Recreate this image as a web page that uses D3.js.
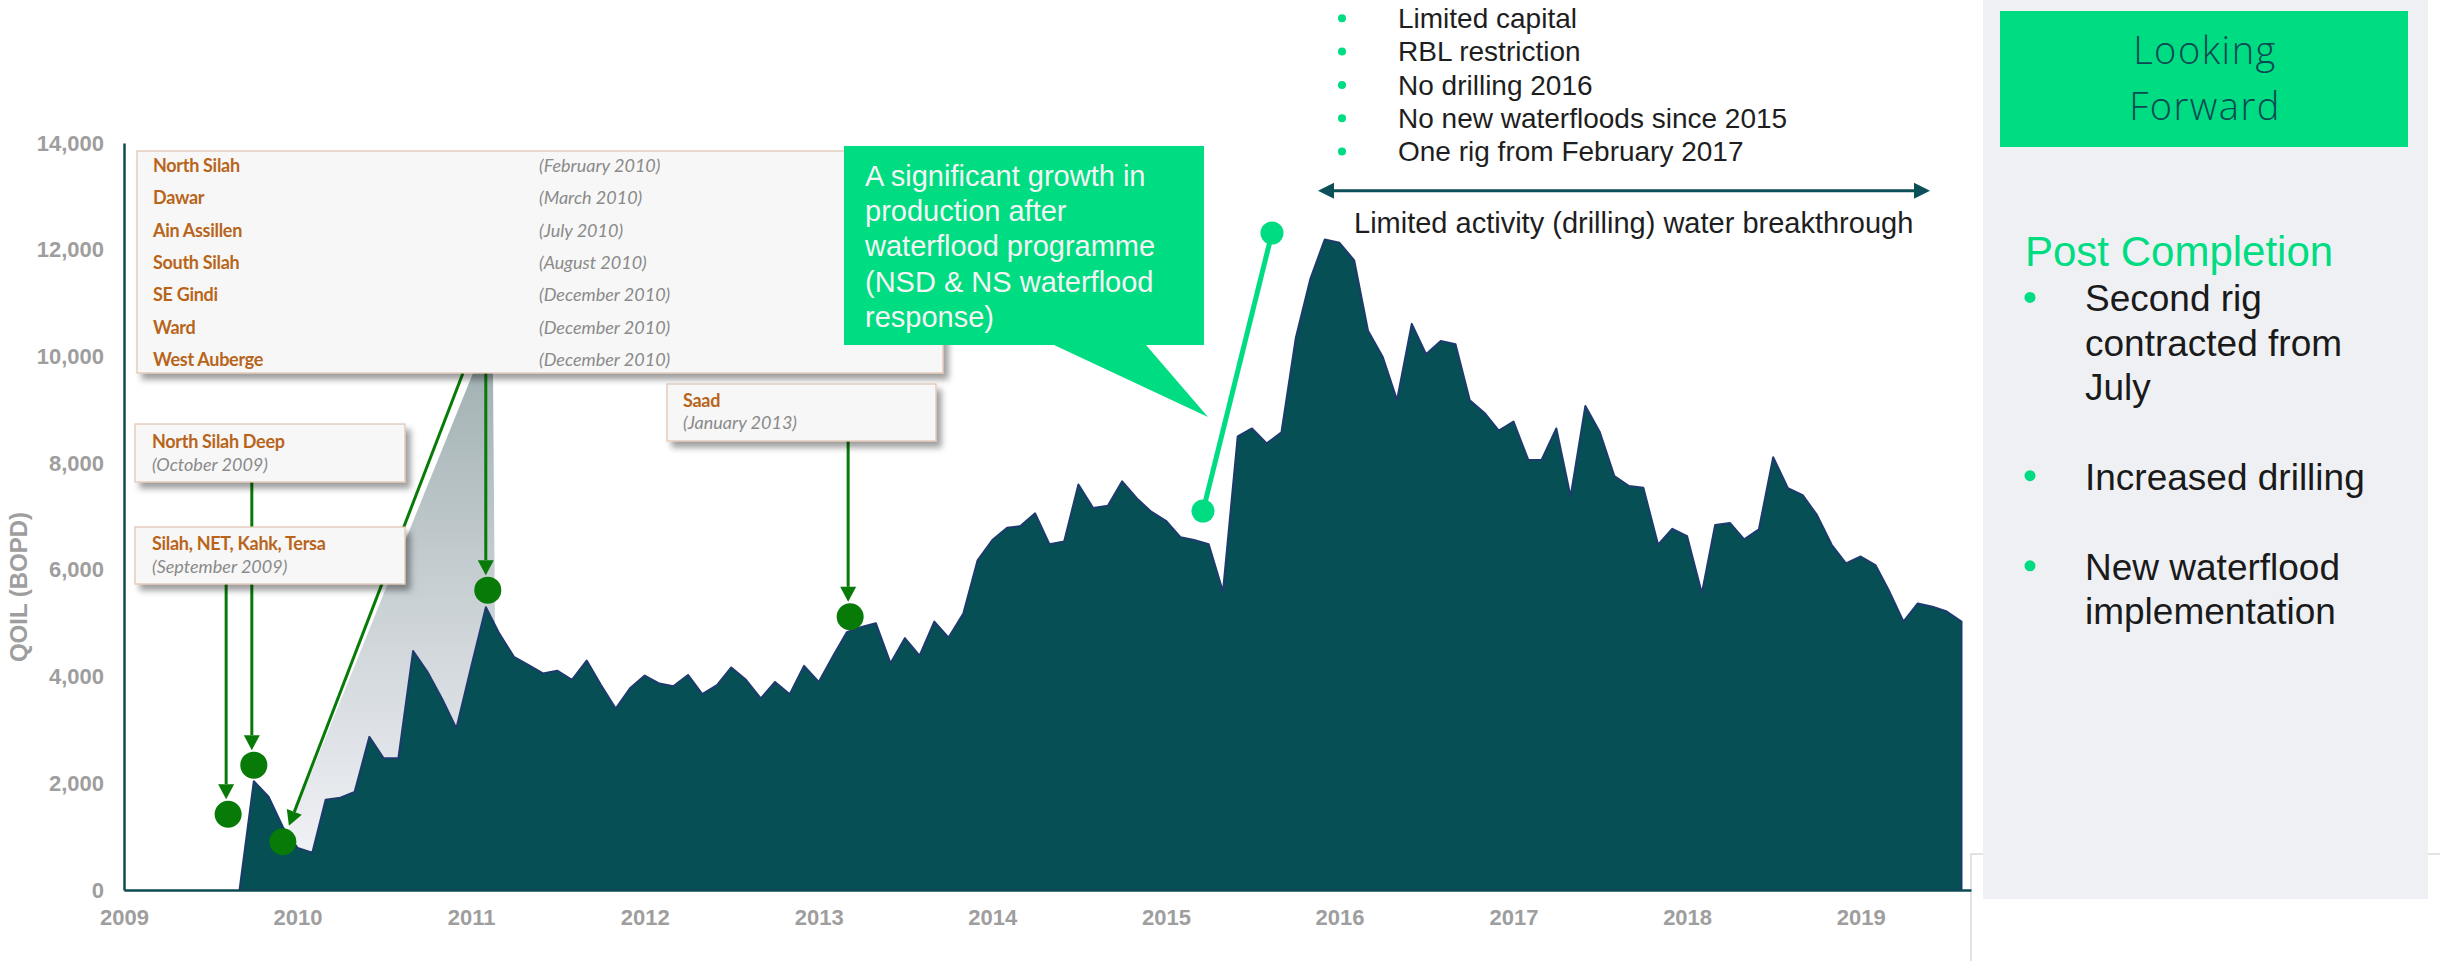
<!DOCTYPE html>
<html>
<head>
<meta charset="utf-8">
<script src="https://cdn.jsdelivr.net/npm/d3@7"></script>
<style>
  html, body { margin: 0; padding: 0; background: #fff; }
  svg { display: block; }
</style>
</head>
<body>
<div id="chart"></div>
<script>
// monthly oil rate, first value is September 2009
const startMonth = "2009-09";
const qoil = [
  0, 2040, 1750, 1180,
  790, 700, 1690, 1730, 1840, 2870, 2470, 2470, 4480, 4090, 3580, 3030,
  4180, 5300, 4810, 4370, 4220, 4060, 4110, 3940, 4300, 3840, 3400, 3780,
  4020, 3870, 3820, 4030, 3670, 3840, 4170, 3940, 3590, 3900, 3670, 4200,
  3900, 4400, 4830, 4930, 5000, 4250, 4720, 4390, 5030, 4730, 5180, 6180,
  6560, 6790, 6820, 7060, 6480, 6530, 7600, 7160, 7200, 7660, 7340, 7090,
  6920, 6610, 6560, 6480, 5590, 8500, 8650, 8370, 8580, 10340, 11460, 12190,
  12130, 11800, 10480, 9990, 9180, 10610, 10040, 10290, 10230, 9180, 8940, 8610,
  8780, 8060, 8060, 8650, 7370, 9070, 8590, 7760, 7570, 7540, 6470, 6770,
  6630, 5560, 6840, 6880, 6570, 6760, 8110, 7530, 7400, 7030, 6470, 6120,
  6250, 6090, 5620, 5030, 5370, 5310, 5220, 5030
];

const yTicks = [0, 2000, 4000, 6000, 8000, 10000, 12000, 14000];
const yearTicks = ["2009", "2010", "2011", "2012", "2013", "2014", "2015", "2016", "2017", "2018", "2019"];

const fields2010 = ["North Silah", "Dawar", "Ain Assillen", "South Silah", "SE Gindi", "Ward", "West Auberge"];
const fields2010Dates = ["(February 2010)", "(March 2010)", "(July 2010)", "(August 2010)", "(December 2010)", "(December 2010)", "(December 2010)"];
const nsdLabel = ["North Silah Deep", "(October 2009)"];
const silahLabel = ["Silah, NET, Kahk, Tersa", "(September 2009)"];
const saadLabel = ["Saad", "(January 2013)"];

// event markers on the curve
const eventDates = ["2009-08-08", "2009-10-01", "2009-12-01", "2011-02-05", "2013-03-08"];
const eventValues = [1420, 2340, 905, 5620, 5120];

const calloutLines = ["A significant growth in", "production after", "waterflood programme", "(NSD & NS waterflood", "response)"];
const constraints = ["Limited capital", "RBL restriction", "No drilling 2016", "No new waterfloods since 2015", "One rig from February 2017"];
const activityLabel = "Limited activity (drilling) water breakthrough";
const panelTitle = ["Looking", "Forward"];
const panelHeading = "Post Completion";
const panelBullets = [["Second rig", "contracted from", "July"], ["Increased drilling"], ["New waterflood", "implementation"]];

const W = 2440, H = 961;
const teal = "#054f55", green = "#00dc82", dkGreen = "#077a07";
const axisGray = "#9e9e9e", brown = "#b8651b";

const svg = d3.select("#chart").append("svg")
  .attr("width", W)
  .attr("height", H)
  .style("font-family", "'Liberation Sans', Arial, sans-serif");

const defs = svg.append("defs");
const shadow = defs.append("filter").attr("id", "shadow")
  .attr("x", "-5%").attr("y", "-10%").attr("width", "115%").attr("height", "140%");
shadow.append("feDropShadow")
  .attr("dx", 5).attr("dy", 6).attr("stdDeviation", 3)
  .attr("flood-color", "#000").attr("flood-opacity", 0.38);

const wedgeGrad = defs.append("linearGradient").attr("id", "wedge")
  .attr("gradientUnits", "userSpaceOnUse")
  .attr("x1", 0).attr("y1", 373).attr("x2", 0).attr("y2", 860);
wedgeGrad.append("stop").attr("offset", 0).attr("stop-color", "#a3b2b4");
wedgeGrad.append("stop").attr("offset", 0.5).attr("stop-color", "#ccd3d7");
wedgeGrad.append("stop").attr("offset", 1).attr("stop-color", "#f1f2f6");

// right hand panel
svg.append("rect")
  .attr("x", 1971).attr("y", 854).attr("width", 480).attr("height", 120)
  .attr("fill", "#fff").attr("stroke", "#c8c8c8").attr("stroke-width", 1);
svg.append("rect")
  .attr("x", 1983).attr("y", 0).attr("width", 445).attr("height", 899)
  .attr("fill", "#eff0f4");

// scales
const parseMonth = d3.timeParse("%Y-%m");
const parseDay = d3.timeParse("%Y-%m-%d");
const parseYear = d3.timeParse("%Y");
const start = parseMonth(startMonth);
const series = qoil.map((v, i) => ({ date: d3.timeMonth.offset(start, i), value: v }));

const x = d3.scaleTime()
  .domain([parseYear("2009"), parseDay("2019-08-21")])
  .range([124, 1971]);
const y = d3.scaleLinear()
  .domain([0, 14000])
  .range([890, 143]);

// grey wedge from the 2010 field list down to the curve
svg.append("path")
  .attr("d", "M473,373L493,373L497,890L264,890Z")
  .attr("fill", "url(#wedge)");

// production area
const area = d3.area()
  .x(d => x(d.date))
  .y0(y(0))
  .y1(d => y(d.value));

svg.append("path")
  .datum(series)
  .attr("d", area)
  .attr("fill", teal)
  .attr("stroke", "#1d3b6c")
  .attr("stroke-width", 2)
  .attr("stroke-linejoin", "round");

// axes
const yAxis = d3.axisLeft(y)
  .tickValues(yTicks)
  .tickFormat(d3.format(","))
  .tickSize(0)
  .tickPadding(20);
const gy = svg.append("g").attr("transform", "translate(124,0)").call(yAxis);

const xAxis = d3.axisBottom(x)
  .tickValues(yearTicks.map(parseYear))
  .tickFormat(d3.timeFormat("%Y"))
  .tickSize(0)
  .tickPadding(19);
const gx = svg.append("g").attr("transform", "translate(0,890)").call(xAxis);

[gx, gy].forEach(g => {
  g.select(".domain").attr("stroke", "#0d4b52").attr("stroke-width", 2.5);
  g.selectAll("text")
    .attr("fill", axisGray)
    .style("font-family", "'Liberation Sans', Arial, sans-serif")
    .style("font-size", "22px")
    .style("font-weight", "bold");
});

svg.append("text")
  .attr("transform", "translate(19,587) rotate(-90)")
  .attr("text-anchor", "middle")
  .attr("dy", "0.35em")
  .attr("fill", axisGray)
  .style("font-size", "24px")
  .style("font-weight", "bold")
  .text("QOIL (BOPD)");

// event arrows and markers
function arrow(x1, y1, x2, y2) {
  const dx = x2 - x1, dy = y2 - y1, len = Math.hypot(dx, dy);
  const ux = dx / len, uy = dy / len;
  const head = 15, half = 8;
  const bx = x2 - ux * head, by = y2 - uy * head;
  svg.append("line")
    .attr("x1", x1).attr("y1", y1).attr("x2", bx).attr("y2", by)
    .attr("stroke", dkGreen).attr("stroke-width", 3);
  svg.append("path")
    .attr("d", `M${x2},${y2}L${bx - uy * half},${by + ux * half}L${bx + uy * half},${by - ux * half}Z`)
    .attr("fill", dkGreen);
}

const events = eventDates.map((d, i) => ({ cx: x(parseDay(d)), cy: y(eventValues[i]) }));
// where each arrow leaves its label box
const arrowStarts = [[null, 584], [null, 482], [463, 373], [null, 373], [null, 441]];
events.forEach((e, i) => {
  const s = arrowStarts[i];
  const sx = s[0] === null ? e.cx - 2 : s[0];
  if (s[0] === null) {
    arrow(sx, s[1], sx, e.cy - 15);
  } else {
    const dx = e.cx - sx, dy = e.cy - s[1], len = Math.hypot(dx, dy);
    arrow(sx, s[1], e.cx - dx / len * 17, e.cy - dy / len * 17);
  }
});

svg.selectAll("circle.event")
  .data(events)
  .enter().append("circle")
  .attr("class", "event")
  .attr("cx", d => d.cx)
  .attr("cy", d => d.cy)
  .attr("r", 13.5)
  .attr("fill", dkGreen);

// label boxes
function labelBox(bx, by, bw, bh) {
  svg.append("rect")
    .attr("x", bx).attr("y", by).attr("width", bw).attr("height", bh)
    .attr("fill", "#f7f7f7")
    .attr("stroke", "#dfc2ad")
    .attr("stroke-width", 1.2)
    .attr("filter", "url(#shadow)");
}
function nameText(tx, ty, s) {
  svg.append("text").attr("x", tx).attr("y", ty).attr("dy", "0.35em")
    .attr("fill", brown)
    .style("font-family", "Lato, 'Open Sans', sans-serif")
    .style("font-size", "18px").style("font-weight", "bold")
    .style("letter-spacing", "-0.3px")
    .text(s);
}
function dateText(tx, ty, s) {
  svg.append("text").attr("x", tx).attr("y", ty).attr("dy", "0.35em")
    .attr("fill", "#8a8a8a")
    .style("font-family", "Lato, 'Open Sans', sans-serif")
    .style("font-size", "18px").style("font-style", "italic")
    .text(s);
}

labelBox(137, 151, 806, 222);
fields2010.forEach((f, i) => {
  nameText(153, 165.7 + i * 32.3, f);
  dateText(539, 165.7 + i * 32.3, fields2010Dates[i]);
});

labelBox(135, 424, 270, 58);
nameText(152, 442, nsdLabel[0]);
dateText(152, 465, nsdLabel[1]);

labelBox(135, 527, 270, 57);
nameText(152, 544, silahLabel[0]);
dateText(152, 567, silahLabel[1]);

labelBox(667, 384, 269, 57);
nameText(683, 401, saadLabel[0]);
dateText(683, 423, saadLabel[1]);

// green speech callout
svg.append("path")
  .attr("d", "M844,146L1204,146L1204,345L1146,345L1208,417L1054,345L844,345Z")
  .attr("fill", green);
svg.selectAll("text.callout")
  .data(calloutLines)
  .enter().append("text")
  .attr("class", "callout")
  .attr("x", 865)
  .attr("y", (d, i) => 175.7 + i * 35.3)
  .attr("dy", "0.35em")
  .attr("fill", "#f4f4f4")
  .style("font-size", "29px")
  .text(d => d);

// green pointer with round ends
svg.append("line")
  .attr("x1", 1203).attr("y1", 511).attr("x2", 1272).attr("y2", 233)
  .attr("stroke", green).attr("stroke-width", 5);
[[1203, 511], [1272, 233]].forEach(p => {
  svg.append("circle").attr("cx", p[0]).attr("cy", p[1]).attr("r", 11.5).attr("fill", green);
});

// constraints list
constraints.forEach((c, i) => {
  const cy = 18.3 + i * 33.3;
  svg.append("circle").attr("cx", 1342).attr("cy", cy).attr("r", 4).attr("fill", green);
  svg.append("text").attr("x", 1398).attr("y", cy).attr("dy", "0.35em")
    .attr("fill", "#1e1e1e").style("font-size", "28px").text(c);
});

// double headed arrow over the late period
const arrowY = 190.7, ax1 = 1318, ax2 = 1930;
svg.append("line")
  .attr("x1", ax1 + 14).attr("y1", arrowY).attr("x2", ax2 - 14).attr("y2", arrowY)
  .attr("stroke", "#0c4f57").attr("stroke-width", 3);
svg.append("path")
  .attr("d", `M${ax1},${arrowY}L${ax1 + 16},${arrowY - 8}L${ax1 + 16},${arrowY + 8}Z`)
  .attr("fill", "#0c4f57");
svg.append("path")
  .attr("d", `M${ax2},${arrowY}L${ax2 - 16},${arrowY - 8}L${ax2 - 16},${arrowY + 8}Z`)
  .attr("fill", "#0c4f57");
svg.append("text")
  .attr("x", 1354).attr("y", 222.7).attr("dy", "0.35em")
  .attr("fill", "#1e1e1e").style("font-size", "29px")
  .text(activityLabel);

// Looking Forward panel
svg.append("rect")
  .attr("x", 2000).attr("y", 11).attr("width", 408).attr("height", 136)
  .attr("fill", green);
panelTitle.forEach((t, i) => {
  svg.append("text")
    .attr("x", 2205).attr("y", 51 + i * 56).attr("dy", "0.35em")
    .attr("text-anchor", "middle")
    .attr("fill", "#0b4a52")
    .style("font-family", "'Open Sans', sans-serif")
    .style("font-weight", 300)
    .style("font-size", "38px")
    .style("letter-spacing", "1.5px")
    .text(t);
});
svg.append("text")
  .attr("x", 2025).attr("y", 251).attr("dy", "0.35em")
  .attr("fill", green).style("font-size", "42px")
  .text(panelHeading);

const bulletTop = [298.4, 476.7, 566.8];
panelBullets.forEach((lines, i) => {
  svg.append("circle").attr("cx", 2030).attr("cy", bulletTop[i] - 1).attr("r", 5.5).attr("fill", green);
  lines.forEach((l, j) => {
    svg.append("text")
      .attr("x", 2085).attr("y", bulletTop[i] + j * 44.5).attr("dy", "0.35em")
      .attr("fill", "#1a1a1a").style("font-size", "37px")
      .text(l);
  });
});
</script>
</body>
</html>
